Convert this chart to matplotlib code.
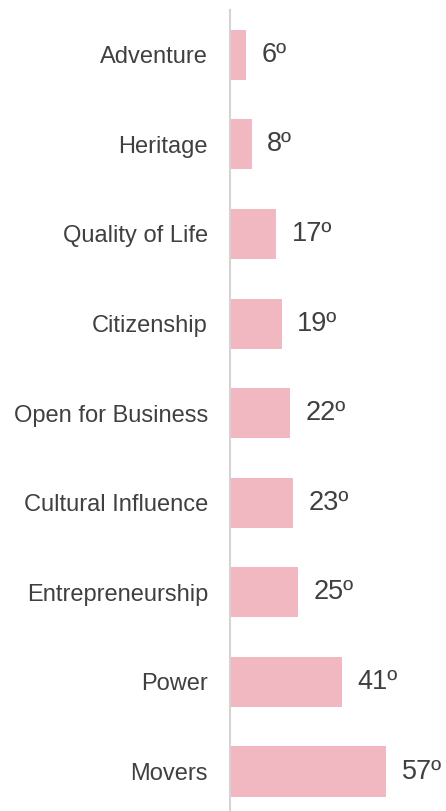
import matplotlib.pyplot as plt

plt.rcParams['font.family'] = ['Liberation Sans', 'DejaVu Sans']

# Rankings per sub-category (lower is better)
categories = ['Adventure', 'Heritage', 'Quality of Life', 'Citizenship',
              'Open for Business', 'Cultural Influence', 'Entrepreneurship',
              'Power', 'Movers']
ranks = [6, 8, 17, 19, 22, 23, 25, 41, 57]

bar_color = '#f2b8c2'
text_color = '#404040'

fig = plt.figure(figsize=(4.46, 8.11), dpi=100)
ax = fig.add_axes([229.5 / 446, 0, 1 - 229.5 / 446, 1 - 10 / 811])

pos = list(range(len(categories)))
ax.barh(pos, ranks, height=0.56, color=bar_color)

for y, v in zip(pos, ranks):
    ax.text(v + 5.6, y, f'{v}\u00ba', va='center', ha='left',
            fontsize=19.5, color=text_color)

ax.set_xlim(0, 78.7)
ax.set_ylim(8.44, -0.5)
ax.set_yticks(pos)
ax.set_yticklabels(categories, fontsize=17, color=text_color)
ax.tick_params(axis='y', length=0, pad=15.5)
ax.set_xticks([])

for side in ['top', 'right', 'bottom']:
    ax.spines[side].set_visible(False)
ax.spines['left'].set_color('#d4d4d4')
ax.spines['left'].set_linewidth(1.5)

fig.savefig('out.png', dpi=100)
